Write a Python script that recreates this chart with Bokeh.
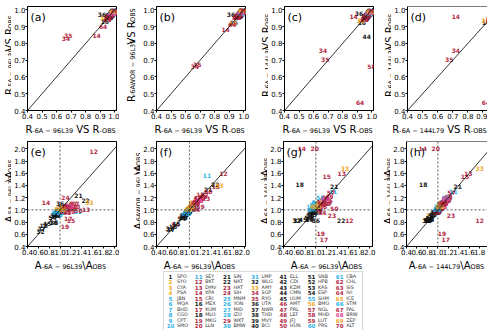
import math
from bokeh.plotting import figure
from bokeh.layouts import column, row
from bokeh.models import (ColumnDataSource, Range1d, FixedTicker, PrintfTickFormatter,
                          Label, Slope, Span)
from bokeh.core.properties import value
from bokeh.embed import file_html
from bokeh.resources import INLINE

# ---------------------------------------------------------------- stations
stations = [
    "SPO", "SYO", "CYA", "PSA", "JBN", "MQA", "BHD", "CGO", "CPT", "SMO",
    "SEY", "BKT", "DMV", "KPA", "CRI", "MEX", "KUM", "MLO", "MKG", "LLN",
    "SIN", "NAT", "HAT", "SIH", "MNM", "YON", "MID", "IZO", "WKT", "BMW",
    "LMP", "WLG", "AMY", "SGP", "RYO", "UTA", "NWR", "THD", "MVY", "BCI",
    "ELL", "CDI", "KZM", "CMN", "UUM", "AMT", "PRL", "LEF", "JFJ", "HUN",
    "SNB", "HPB", "KAS", "ESP", "SHM", "BMO", "NGL", "MHD", "LUT", "PRS",
    "CBA", "CHL", "SIS", "IVI", "ICE", "STM", "PAL", "BRW", "ZEP", "ALT",
]
groups = [
    "k", "o", "o", "o", "c", "c", "c", "c", "c", "c",
    "c", "r", "r", "r", "r", "k", "r", "k", "r", "r",
    "k", "k", "r", "r", "c", "c", "c", "c", "r", "c",
    "c", "k", "o", "r", "r", "k", "k", "k", "k", "k",
    "k", "k", "k", "k", "k", "r", "r", "r", "r", "r",
    "k", "k", "k", "k", "c", "o", "r", "r", "r", "c",
    "c", "r", "r", "r", "o", "c", "r", "m", "o", "r",
]
palette = {"k": "#141414", "o": "#f2a71b", "c": "#2bb3e6", "r": "#b3263f", "m": "#e2409c"}

# ---------------------------------------------------------------- correlation R
r_6a96 = [
    0.995, 0.990, 0.985, 0.988, 0.975, 0.982, 0.970, 0.978, 0.965, 0.972,
    0.968, 0.955, 0.960, 0.875, 0.985, 0.932, 0.990, 0.975, 0.980, 0.950,
    0.985, 0.970, 0.965, 0.992, 0.988, 0.993, 0.996, 0.984, 0.978, 0.990,
    0.994, 0.980, 0.925, 0.665, 0.680, 0.912, 0.986, 0.962, 0.990, 0.976,
    0.997, 0.983, 0.972, 0.965, 0.988, 0.994, 0.970, 0.982, 0.988, 0.958,
    0.993, 0.978, 0.985, 0.960, 0.975, 0.980, 0.966, 0.998, 0.986, 0.982,
    0.991, 0.974, 0.950, 0.920, 0.987, 0.979, 0.969, 0.984, 0.993, 0.996]
r_5a96 = [
    0.994, 0.988, 0.984, 0.990, 0.978, 0.980, 0.972, 0.975, 0.968, 0.970,
    0.965, 0.960, 0.955, 0.850, 0.982, 0.930, 0.988, 0.972, 0.977, 0.946,
    0.983, 0.968, 0.962, 0.990, 0.985, 0.991, 0.995, 0.981, 0.975, 0.988,
    0.992, 0.978, 0.955, 0.830, 0.845, 0.975, 0.984, 0.965, 0.989, 0.974,
    0.996, 0.980, 0.969, 0.970, 0.986, 0.993, 0.966, 0.979, 0.986, 0.952,
    0.992, 0.976, 0.982, 0.957, 0.972, 0.977, 0.962, 0.990, 0.984, 0.978,
    0.989, 0.970, 0.945, 0.900, 0.985, 0.976, 0.964, 0.981, 0.991, 0.994]
r_6awor96 = [
    0.996, 0.990, 0.986, 0.987, 0.976, 0.983, 0.971, 0.978, 0.966, 0.973,
    0.969, 0.957, 0.961, 0.885, 0.986, 0.922, 0.990, 0.974, 0.981, 0.952,
    0.985, 0.969, 0.967, 0.993, 0.988, 0.994, 0.996, 0.985, 0.979, 0.991,
    0.995, 0.981, 0.920, 0.665, 0.675, 0.970, 0.987, 0.963, 0.991, 0.977,
    0.997, 0.984, 0.973, 0.965, 0.989, 0.995, 0.971, 0.983, 0.989, 0.960,
    0.994, 0.979, 0.986, 0.961, 0.976, 0.981, 0.967, 0.995, 0.987, 0.983,
    0.992, 0.975, 0.952, 0.915, 0.988, 0.980, 0.970, 0.985, 0.994, 0.997]
r_6a144l39 = [
    0.993, 0.987, 0.982, 0.985, 0.972, 0.979, 0.968, 0.976, 0.962, 0.970,
    0.966, 0.950, 0.958, 0.962, 0.980, 0.925, 0.986, 0.970, 0.978, 0.940,
    0.982, 0.965, 0.960, 0.990, 0.986, 0.992, 0.994, 0.983, 0.974, 0.989,
    0.993, 0.977, 0.937, 0.755, 0.705, 0.980, 0.984, 0.958, 0.988, 0.973,
    0.995, 0.981, 0.970, 0.840, 0.985, 0.992, 0.968, 0.980, 0.987, 0.955,
    0.991, 0.975, 0.983, 0.956, 0.973, 0.978, 0.963, 0.660, 0.984, 0.979,
    0.990, 0.972, 0.940, 0.450, 0.986, 0.977, 0.966, 0.982, 0.992, 0.995]
r_6a144l79 = [
    0.994, 0.989, 0.984, 0.986, 0.974, 0.981, 0.970, 0.977, 0.964, 0.972,
    0.967, 0.953, 0.960, 0.720, 0.982, 0.922, 0.988, 0.971, 0.979, 0.945,
    0.984, 0.967, 0.962, 0.991, 0.987, 0.993, 0.995, 0.984, 0.976, 0.990,
    0.994, 0.979, 0.916, 0.720, 0.676, 0.990, 0.985, 0.960, 0.990, 0.975,
    0.996, 0.982, 0.971, 0.980, 0.987, 0.994, 0.969, 0.981, 0.988, 0.957,
    0.992, 0.977, 0.984, 0.958, 0.974, 0.980, 0.965, 0.999, 0.985, 0.981,
    0.991, 0.973, 0.948, 0.920, 0.987, 0.978, 0.968, 0.983, 0.993, 0.996]

# ---------------------------------------------------------------- amplitude ratio A / A_OBS
a_6a96 = [
    0.95, 0.93, 1.05, 1.10, 0.92, 0.96, 0.98, 0.94, 1.00, 0.90,
    1.32, 1.62, 1.48, 0.74, 1.20, 0.88, 1.15, 0.70, 1.09, 0.98,
    1.34, 1.47, 1.30, 1.10, 0.97, 0.95, 1.02, 0.90, 1.22, 0.99,
    1.05, 0.64, 1.54, 1.12, 1.18, 1.00, 0.66, 0.89, 0.89, 0.92,
    0.95, 0.97, 0.94, 0.99, 0.76, 1.05, 1.08, 1.15, 1.25, 1.34,
    1.02, 0.98, 1.04, 0.86, 1.08, 1.06, 1.28, 1.13, 1.20, 0.96,
    1.01, 1.16, 1.06, 1.12, 1.03, 0.93, 1.24, 1.18, 0.98, 1.10]
a_5a96 = [
    0.96, 0.97, 1.03, 1.02, 0.95, 0.98, 0.93, 0.90, 0.96, 0.94,
    0.98, 1.96, 1.00, 1.115, 0.83, 0.80, 0.86, 0.75, 0.72, 1.00,
    1.24, 1.16, 1.05, 1.21, 0.92, 0.95, 0.99, 0.90, 1.02, 0.97,
    0.98, 0.65, 1.12, 1.00, 1.04, 1.10, 0.69, 0.79, 0.91, 0.93,
    0.97, 0.98, 0.90, 0.95, 0.78, 1.02, 0.99, 1.03, 1.06, 0.99,
    1.00, 0.96, 1.05, 0.88, 1.00, 1.04, 1.10, 0.95, 0.98, 0.99,
    0.96, 1.08, 0.97, 1.06, 1.00, 0.96, 1.10, 1.06, 1.02, 1.05]
a_6awor96 = [
    0.96, 0.94, 1.08, 1.12, 0.93, 0.97, 0.99, 0.95, 1.02, 0.91,
    1.57, 1.60, 1.38, 0.76, 1.25, 0.87, 1.18, 0.72, 1.03, 0.98,
    1.33, 1.42, 1.18, 1.10, 0.96, 0.94, 1.01, 0.90, 1.20, 1.00,
    1.05, 0.70, 1.40, 1.10, 1.15, 1.00, 0.68, 0.88, 0.90, 0.92,
    0.96, 0.99, 0.95, 1.00, 0.77, 1.06, 1.10, 1.20, 1.22, 1.30,
    1.03, 0.97, 1.04, 0.86, 1.07, 1.12, 1.25, 1.14, 1.05, 0.97,
    1.00, 1.15, 1.07, 1.00, 1.05, 0.94, 1.20, 1.16, 1.00, 1.12]
a_6a144l39 = [
    0.97, 0.90, 1.02, 1.08, 1.08, 1.12, 1.00, 0.96, 1.03, 1.05,
    1.30, 0.83, 1.60, 2.00, 1.55, 0.84, 0.52, 1.42, 0.62, 2.00,
    1.38, 0.82, 0.90, 1.12, 1.05, 0.98, 1.08, 0.95, 1.15, 1.12,
    1.10, 0.82, 1.67, 1.10, 1.20, 0.83, 0.83, 0.86, 0.90, 0.95,
    0.98, 1.00, 0.92, 1.04, 0.84, 1.04, 1.14, 1.18, 1.22, 1.02,
    1.02, 0.95, 0.98, 0.87, 1.20, 1.10, 1.28, 1.05, 1.10, 1.02,
    1.05, 1.10, 1.00, 0.95, 1.06, 1.00, 1.12, 1.18, 1.05, 1.08]
a_6a144l79 = [
    0.96, 0.82, 1.04, 1.10, 1.05, 1.06, 1.00, 0.95, 1.02, 1.00,
    1.30, 1.80, 1.58, 0.71, 1.52, 0.85, 1.15, 0.72, 1.08, 0.96,
    1.38, 0.80, 1.25, 1.10, 1.03, 0.97, 1.06, 0.93, 1.18, 1.10,
    1.08, 0.78, 1.80, 1.08, 1.20, 0.80, 0.80, 0.84, 0.88, 0.93,
    0.96, 0.98, 0.90, 1.02, 0.82, 1.05, 1.12, 1.16, 1.20, 1.05,
    1.00, 0.96, 1.00, 0.85, 1.15, 1.08, 1.26, 1.10, 1.10, 1.00,
    1.03, 1.12, 1.02, 0.98, 1.05, 0.98, 1.15, 1.15, 1.04, 1.06]

r_ticks = [0.4, 0.5, 0.6, 0.7, 0.8, 0.9, 1.0]
a_ticks = [0.4, 0.6, 0.8, 1.0, 1.2, 1.4, 1.6, 1.8, 2.0]

FONT = "DejaVu Sans"
MAIN, SUB = 10.0, 6.5
# DejaVu Sans advance widths (em) for laying out the mixed-size axis titles
ADV = {" ": 0.318, "-": 0.361, "\u2212": 0.838, "A": 0.684, "B": 0.686, "L": 0.557,
       "O": 0.787, "R": 0.695, "S": 0.635, "V": 0.684, "W": 0.989, "\\": 0.337}


def text_w(s, size):
    return sum(ADV.get(ch, 0.636) for ch in s) * size


def r_axis(sub):
    return [("R", False), (sub, True), (" VS R", False), ("-OBS", True)]


def a_axis(sub):
    return [("A", False), (sub, True), ("\\A", False), ("OBS", True)]


def blank(w, h, yflip=False):
    yr = Range1d(h, 0) if yflip else Range1d(0, h)
    s = figure(width=w, height=h, x_range=Range1d(0, w), y_range=yr,
               x_axis_location=None, y_axis_location=None,
               toolbar_location=None, output_backend="svg",
               min_border_left=0, min_border_right=0, min_border_top=0, min_border_bottom=0)
    s.grid.visible = False
    s.outline_line_color = None
    s.background_fill_color = "white"
    s.border_fill_color = "white"
    return s


def draw_title(s, pieces, pos, base, vertical):
    """Lay out a title made of normal and subscript pieces along x or y."""
    xs, ys, txt, sizes = [], [], [], []
    for t, sub in pieces:
        size = SUB if sub else MAIN
        lead = len(t) - len(t.lstrip(" "))
        pos += text_w(" " * lead, size)      # leading blanks are not kept by svg text
        t = t.lstrip(" ")
        if vertical:
            xs.append(base + (1.3 if sub else 0))
            ys.append(pos)
        else:
            xs.append(pos)
            ys.append(base - (2 if sub else 0))
        txt.append(t)
        sizes.append(f"{size}px")
        pos += text_w(t, size)
    src = ColumnDataSource(dict(x=xs, y=ys, t=txt, fs=sizes))
    s.text(x="x", y="y", text="t", text_font_size="fs", source=src,
           text_font=value(FONT), text_color="black", text_align="left",
           text_baseline="alphabetic", angle=(math.pi / 2 if vertical else 0))


def y_strip(w, h, pieces, base, center):
    s = blank(w, h)
    total = sum(text_w(t, SUB if sub else MAIN) for t, sub in pieces)
    draw_title(s, pieces, center - total / 2, base, True)
    return s


def panel(xv, yv, kind, letter, geo):
    bl, fw, br, bt, fh, bb, xend = geo
    if kind == "R":
        yend, ticks = 1.02, r_ticks
    else:
        yend, ticks = 2.12, a_ticks
    p = figure(width=bl + fw + br, height=bt + fh + bb,
               x_range=Range1d(0.4, xend), y_range=Range1d(0.4, yend),
               toolbar_location=None, output_backend="svg",
               min_border_left=bl, min_border_right=br,
               min_border_top=bt, min_border_bottom=bb)
    p.grid.visible = False
    p.background_fill_color = "white"
    p.border_fill_color = "white"
    for ax in (p.xaxis[0], p.yaxis[0]):
        ax.ticker = FixedTicker(ticks=ticks)
        ax.formatter = PrintfTickFormatter(format="%.1f")
        ax.major_label_text_font = FONT
        ax.major_label_text_font_size = "7px"
        ax.major_label_text_color = "black"
        ax.major_tick_in = 0
        ax.major_tick_out = 2
        ax.major_label_standoff = 0
        ax.minor_tick_line_color = None
        ax.axis_line_color = "black"
        ax.major_tick_line_color = "black"
    if br == 0:
        # panel runs to the page edge: box closed on top only
        p.outline_line_color = None
        p.add_layout(Span(location=yend, dimension="width", line_color="black", line_width=1))
    else:
        p.outline_line_color = "black"
        p.outline_line_width = 1

    p.add_layout(Slope(gradient=1, y_intercept=0, line_color="black", line_width=0.8))
    if kind == "A":
        for dim in ("width", "height"):
            p.add_layout(Span(location=1.0, dimension=dim, line_color="#333333",
                              line_width=0.8, line_dash="2 2"))

    src = ColumnDataSource(dict(
        x=xv, y=yv,
        num=[str(i + 1) for i in range(len(xv))],
        col=[palette[g] for g in groups],
    ))
    p.text(x="x", y="y", text="num", text_color="col", source=src,
           text_font=value(FONT), text_font_size="6px", text_font_style="bold",
           text_align="center", text_baseline="middle")

    tag = Label(x=3, y=fh - 4, x_units="screen", y_units="screen", text=f"({letter})",
                text_font=FONT, text_font_size="11px", text_baseline="top",
                text_color="black")
    p.add_layout(tag)
    return p


# (border left, frame width, border right, border top, frame height, border bottom, x end)
top_geo = [(13, 92, 3, 6, 104, 11, 1.012), (13, 92, 10, 6, 104, 11, 1.012),
           (13, 92, 7, 6, 104, 11, 1.012), (13, 83, 0, 6, 104, 11, 0.93)]
bot_geo = [(13, 92, 3, 6, 105, 11, 2.04), (13, 92, 10, 6, 105, 11, 2.02),
           (13, 92, 8, 6, 105, 11, 2.05), (13, 84, 0, 6, 105, 11, 1.95)]

sub96, sub5, subwor = "-6A \u2212 96L39", "-5A \u2212 96L39", "-6AWOR \u2212 96L39"
sub144, sub79 = "-6A \u2212 144L39", "-6A \u2212 144L79"

pa = panel(r_6a96, r_5a96, "R", "a", top_geo[0])
pb = panel(r_6a96, r_6awor96, "R", "b", top_geo[1])
pc = panel(r_6a96, r_6a144l39, "R", "c", top_geo[2])
pd = panel(r_6a144l79, r_6a144l39, "R", "d", top_geo[3])
pe = panel(a_6a96, a_5a96, "A", "e", bot_geo[0])
pf = panel(a_6a96, a_6awor96, "A", "f", bot_geo[1])
pg = panel(a_6a96, a_6a144l39, "A", "g", bot_geo[2])
ph = panel(a_6a144l79, a_6a144l39, "A", "h", bot_geo[3])

# vertical titles sit in narrow strips between the panels
TOP_H, BOT_H = 121, 122
ya = y_strip(11, TOP_H, r_axis(sub5), 9.2, 63)
yb = y_strip(21, TOP_H, r_axis(subwor), 12, 63)
yc = y_strip(13, TOP_H, r_axis(sub144), 11, 63)
yd = y_strip(11, TOP_H, r_axis(sub144), 9, 63)
ye = y_strip(11, BOT_H, a_axis(sub5), 9.2, 63.5)
yf = y_strip(21, BOT_H, a_axis(subwor), 18.5, 63.5)
yg = y_strip(12, BOT_H, a_axis(sub144), 10, 63.5)
yh = y_strip(10, BOT_H, a_axis(sub144), 8.3, 63.5)

# horizontal titles under each row
xt = blank(487, 14)
for pieces, cx in ((r_axis(sub96), 70), (r_axis(sub96), 199), (r_axis(sub96), 327),
                   (r_axis(sub79), 439)):
    tot = sum(text_w(t, SUB if s else MAIN) for t, s in pieces)
    draw_title(xt, pieces, cx - tot / 2, 6.5, False)
xb = blank(487, 13)
for pieces, cx in ((a_axis(sub96), 70), (a_axis(sub96), 199), (a_axis(sub96), 326),
                   (a_axis(sub79), 446)):
    tot = sum(text_w(t, SUB if s else MAIN) for t, s in pieces)
    draw_title(xb, pieces, cx - tot / 2, 5.5, False)

# ---------------------------------------------------------------- station key
leg = blank(487, 60, yflip=True)
leg.quad(left=[163], right=[362], top=[1], bottom=[90], fill_color="white",
         line_color="#cfcfcf", line_width=0.8)
kx = [170 + (i // 10) * 28.2 for i in range(len(stations))]
ky = [5.5 + (i % 10) * 5.5 for i in range(len(stations))]
ksrc = ColumnDataSource(dict(
    x=kx, y=ky, tx=[v + 6.5 for v in kx],
    num=[str(i + 1) for i in range(len(stations))],
    name=stations, col=[palette[g] for g in groups],
))
leg.text(x="x", y="y", text="num", text_color="col", source=ksrc,
         text_font=value(FONT), text_font_size="5.5px", text_font_style="bold",
         text_align="center", text_baseline="middle")
leg.text(x="tx", y="y", text="name", source=ksrc, text_color="#333333",
         text_font=value(FONT), text_font_size="4.8px",
         text_align="left", text_baseline="middle")

layout = column(
    row(ya, pa, yb, pb, yc, pc, yd, pd, spacing=0),
    xt,
    row(ye, pe, yf, pf, yg, pg, yh, ph, spacing=0),
    xb,
    leg,
    spacing=0,
)

open("out.html", "w").write(file_html(layout, INLINE))
